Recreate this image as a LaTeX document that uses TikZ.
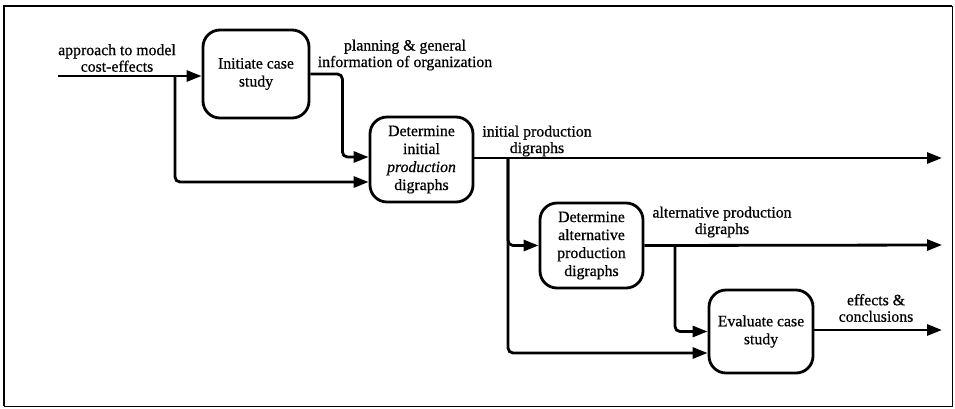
\documentclass[tikz,border=0pt]{standalone}
\usepackage{fontspec}
\setmainfont{Liberation Serif}[FakeBold=0.6]
\usetikzlibrary{arrows.meta,calc}
\begin{document}
\begin{tikzpicture}[x=1pt,y=-1pt,
  proc/.style={draw,line width=2.8pt,rounded corners=17pt,align=center,
    font=\fontsize{15.8}{18}\selectfont,inner sep=0pt},
  lbl/.style={align=center,font=\fontsize{15.8}{16.5}\selectfont,inner sep=0pt},
  flow/.style={line width=2.8pt,rounded corners=5pt,
    -{Triangle[length=15pt,width=11pt]}},
  frame/.style={line width=1.8pt}]
\useasboundingbox (0,0) rectangle (955,408);
% outer frame
\draw[frame] (4,406) -- (4,6) -- (952,6);
\draw[line width=0.8pt] (952,6) -- (952,406) -- (4,406);

% process boxes
\node[proc,minimum width=106pt,minimum height=88pt] (init) at (256,74)
  {Initiate case\\study};
\node[proc,minimum width=103pt,minimum height=85pt] (detinit) at (421.5,159.5)
  {Determine\\initial\\\textit{production}\\digraphs};
\node[proc,minimum width=103pt,minimum height=85pt] (detalt) at (591.5,245.5)
  {Determine\\alternative\\production\\digraphs};
\node[proc,minimum width=104pt,minimum height=83pt] (eval) at (761,331.5)
  {Evaluate case\\study};

% free ends and junctions
\coordinate (inA) at (58,76);
\coordinate (jA) at (175,76);
\coordinate (jB) at (508,158);
\coordinate (jC) at (675,245);
\coordinate (outA) at (942,158);
\coordinate (outB) at (942,245);
\coordinate (outC) at (942,330);

% connectors
\draw[flow] (inA) -- (inA -| init.west);
\draw[flow] (jA) |- ($(detinit.west)+(0,22.5)$);
\draw[flow] (init.east) -- ++(32,0) |- ($(detinit.west)+(0,-2.5)$);
\draw[flow] ($(detinit.east)+(0,-1.5)$) -- (outA);
\draw[flow] (jB) |- (detalt.west);
\draw[flow] (jB) |- ($(eval.west)+(0,21.5)$);
\draw[flow] (detalt.east) -- (outB);
\draw[flow] (jC) |- (eval.west);
\draw[flow] ($(eval.east)+(0,-1.5)$) -- (outC);

% flow labels
\node[lbl] (lin) at (117,58) {approach to model\\cost-effects};
\node[lbl] (lplan) at (405,55) {planning \& general\\information of organization};
\node[lbl] (linit) at (537,141) {initial production\\digraphs};
\node[lbl] (lalt) at (722,222) {alternative production\\digraphs};
\node[lbl] (leff) at (876,308) {effects \&\\conclusions};
\end{tikzpicture}
\end{document}
